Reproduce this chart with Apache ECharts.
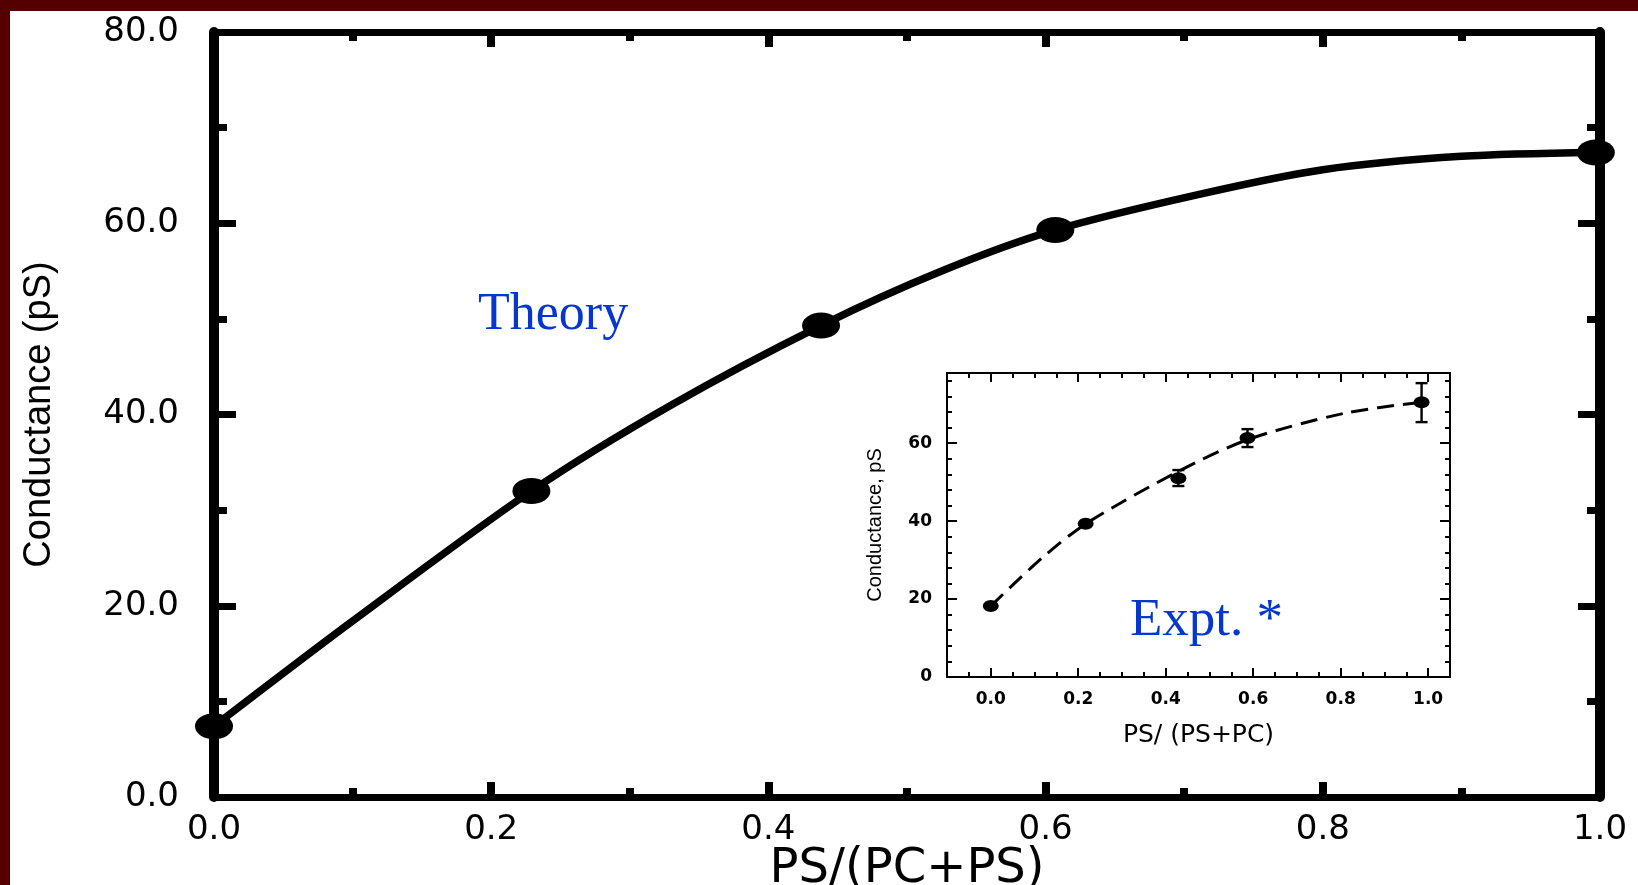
<!DOCTYPE html>
<html>
<head>
<meta charset="utf-8">
<script src="https://cdn.jsdelivr.net/npm/echarts@6/dist/echarts.min.js"></script>
<style>
  html, body { margin: 0; padding: 0; background: #540003; }
  #chart { position: absolute; left: 0; top: 0; width: 1638px; height: 885px; }
</style>
</head>
<body>
<div id="chart"></div>
<script>
// ---- Main chart (Theory) ----
const theoryX = [0, 0.229, 0.438, 0.607, 0.997];
const theoryY = [7.4, 32.0, 49.3, 59.3, 67.4];
// smooth theory curve
const curveX = [0, 0.1, 0.229, 0.33, 0.438, 0.525, 0.607, 0.71, 0.8, 0.9, 0.997];
const curveY = [7.4, 18.4, 32.0, 41.0, 49.3, 55.0, 59.3, 63.0, 65.6, 67.0, 67.4];
const mainXTicks = [0, 0.2, 0.4, 0.6, 0.8, 1.0];
const mainYTicks = [0, 20, 40, 60, 80];

// ---- Inset chart (Expt.) ----
const exptX = [0, 0.217, 0.429, 0.587, 0.985];
const exptY = [18.2, 39.3, 51.0, 61.3, 70.5];
const errX = [0.429, 0.587, 0.985];
const errLow = [49.0, 59.0, 65.4];
const errHigh = [53.1, 63.6, 75.4];
const fitX = [0, 0.12, 0.22, 0.43, 0.59, 0.81, 0.985];
const fitY = [18.2, 30.8, 39.5, 52.8, 61.0, 67.7, 70.5];

const zip = (a, b) => a.map((v, i) => [v, b[i]]);

const chart = echarts.init(document.getElementById('chart'), null, { renderer: 'canvas' });

function mainAxisX(pos, showLabel) {
  return {
    type: 'value', gridIndex: 0, position: pos, min: 0, max: 1, interval: 0.2,
    axisLine: { show: true, onZero: false, lineStyle: { color: '#000', width: 7 } },
    axisTick: { show: true, inside: true, length: 15, lineStyle: { color: '#000', width: 8 } },
    minorTick: { show: true, splitNumber: 2, length: 9, lineStyle: { color: '#000', width: 8 } },
    axisLabel: {
      show: showLabel, margin: 16, color: '#000', fontFamily: 'DejaVu Sans', fontSize: 34,
      formatter: v => v.toFixed(1)
    },
    splitLine: { show: false }, minorSplitLine: { show: false }
  };
}
function mainAxisY(pos, showLabel) {
  return {
    type: 'value', gridIndex: 0, position: pos, min: 0, max: 80, interval: 20,
    axisLine: { show: true, onZero: false, lineStyle: { color: '#000', width: 10 } },
    axisTick: { show: true, inside: true, length: 22, lineStyle: { color: '#000', width: 7 } },
    minorTick: { show: true, splitNumber: 2, length: 13, lineStyle: { color: '#000', width: 7 } },
    axisLabel: {
      show: showLabel, margin: 35, color: '#000', fontFamily: 'DejaVu Sans', fontSize: 34,
      formatter: v => v.toFixed(1)
    },
    splitLine: { show: false }, minorSplitLine: { show: false }
  };
}
function insetAxisX(pos, showLabel) {
  return {
    type: 'value', gridIndex: 1, position: pos, min: -0.1, max: 1.05, splitNumber: 5,
    axisLine: { show: true, onZero: false, lineStyle: { color: '#000', width: 2 } },
    axisTick: { show: true, inside: true, length: 9, lineStyle: { color: '#000', width: 2 } },
    minorTick: { show: true, splitNumber: 4, length: 5, lineStyle: { color: '#000', width: 2 } },
    axisLabel: {
      show: showLabel, margin: 14, color: '#000', fontFamily: 'DejaVu Sans', fontWeight: 'bold', fontSize: 17,
      formatter: v => (v < -1e-6 || v > 1 + 1e-6) ? '' : v.toFixed(1)
    },
    splitLine: { show: false }, minorSplitLine: { show: false }
  };
}
function insetAxisY(pos, showLabel) {
  return {
    type: 'value', gridIndex: 1, position: pos, min: 0, max: 78, interval: 20,
    axisLine: { show: true, onZero: false, lineStyle: { color: '#000', width: 2 } },
    axisTick: { show: true, inside: true, length: 10, lineStyle: { color: '#000', width: 2 } },
    minorTick: { show: true, splitNumber: 5, length: 5, lineStyle: { color: '#000', width: 2 } },
    axisLabel: {
      show: showLabel, margin: 15, color: '#000', fontFamily: 'DejaVu Sans', fontWeight: 'bold', fontSize: 17,
      formatter: v => (Math.abs(v / 20 - Math.round(v / 20)) < 1e-6) ? String(Math.round(v)) : ''
    },
    splitLine: { show: false }, minorSplitLine: { show: false }
  };
}

const xMainBottom = Object.assign(mainAxisX('bottom', true), {
  name: 'PS/(PC+PS)', nameLocation: 'middle', nameGap: 49, nameMoveOverlap: false,
  nameTextStyle: { color: '#000', fontFamily: 'DejaVu Sans', fontSize: 48 }
});
const yMainLeft = Object.assign(mainAxisY('left', true), {
  name: 'Conductance (pS)', nameLocation: 'middle', nameRotate: 90, nameGap: 155, nameMoveOverlap: false,
  nameTextStyle: { color: '#000', fontFamily: 'Liberation Sans', fontSize: 38 }
});
const xInsetBottom = Object.assign(insetAxisX('bottom', true), {
  name: 'PS/ (PS+PC)', nameLocation: 'middle', nameGap: 46, nameMoveOverlap: false,
  nameTextStyle: { color: '#000', fontFamily: 'DejaVu Sans', fontSize: 25 }
});
const yInsetLeft = Object.assign(insetAxisY('left', true), {
  name: 'Conductance, pS', nameLocation: 'middle', nameRotate: 90, nameGap: 62, nameMoveOverlap: false,
  nameTextStyle: { color: '#000', fontFamily: 'Liberation Sans', fontSize: 20 }
});

const option = {
  animation: false,
  backgroundColor: 'transparent',
  graphic: [
    { type: 'rect', shape: { x: 10, y: 11, width: 1628, height: 874 }, style: { fill: '#ffffff' }, z: -10, silent: true },
    { type: 'text', x: 478, y: 315, z: 10,
      style: { text: 'Theory', font: '52px "Liberation Serif"', fill: '#0536d0', align: 'left', verticalAlign: 'middle' } },
    { type: 'text', x: 1130, y: 621, z: 10,
      style: { text: 'Expt. *', font: '53px "Liberation Serif"', fill: '#0536d0', align: 'left', verticalAlign: 'middle' } }
  ],
  grid: [
    { left: 214, right: 38, top: 32, bottom: 88, containLabel: false, outerBoundsMode: 'none' },
    { left: 947, right: 188, top: 373, bottom: 208, containLabel: false, outerBoundsMode: 'none',
      show: true, backgroundColor: '#fff', borderWidth: 0 }
  ],
  xAxis: [xMainBottom, mainAxisX('top', false), xInsetBottom, insetAxisX('top', false)],
  yAxis: [yMainLeft, mainAxisY('right', false), yInsetLeft, insetAxisY('right', false)],
  series: [
    {
      name: 'Theory curve', type: 'line', xAxisIndex: 0, yAxisIndex: 0,
      data: zip(curveX, curveY), smooth: 0.3, symbol: 'none', clip: false,
      lineStyle: { color: '#000', width: 7.5, opacity: 1 }, z: 3
    },
    {
      name: 'Theory', type: 'scatter', xAxisIndex: 0, yAxisIndex: 0,
      data: zip(theoryX, theoryY), symbol: 'circle', symbolSize: [38, 26], clip: false,
      itemStyle: { color: '#000', opacity: 1 }, z: 4
    },
    {
      name: 'Fit', type: 'line', xAxisIndex: 2, yAxisIndex: 2,
      data: zip(fitX, fitY), smooth: 0.3, symbol: 'none',
      lineStyle: { color: '#000', width: 3, type: [17, 9], opacity: 1 }, z: 3
    },
    {
      name: 'Error', type: 'custom', xAxisIndex: 2, yAxisIndex: 2,
      data: errX.map((x, i) => [x, errLow[i], errHigh[i]]),
      encode: { x: 0, y: [1, 2] },
      renderItem: function (params, api) {
        const x = api.value(0);
        const lo = api.coord([x, api.value(1)]);
        const hi = api.coord([x, api.value(2)]);
        const w = 6;
        const st = { stroke: '#000', lineWidth: 2.4 };
        return {
          type: 'group',
          children: [
            { type: 'line', shape: { x1: lo[0], y1: lo[1], x2: hi[0], y2: hi[1] }, style: st },
            { type: 'line', shape: { x1: lo[0] - w, y1: lo[1], x2: lo[0] + w, y2: lo[1] }, style: st },
            { type: 'line', shape: { x1: hi[0] - w, y1: hi[1], x2: hi[0] + w, y2: hi[1] }, style: st }
          ]
        };
      },
      z: 4
    },
    {
      name: 'Expt.', type: 'scatter', xAxisIndex: 2, yAxisIndex: 2,
      data: zip(exptX, exptY), symbol: 'circle', symbolSize: [16, 12], clip: false,
      itemStyle: { color: '#000', opacity: 1 }, z: 5
    }
  ]
};
chart.setOption(option);
</script>
</body>
</html>
